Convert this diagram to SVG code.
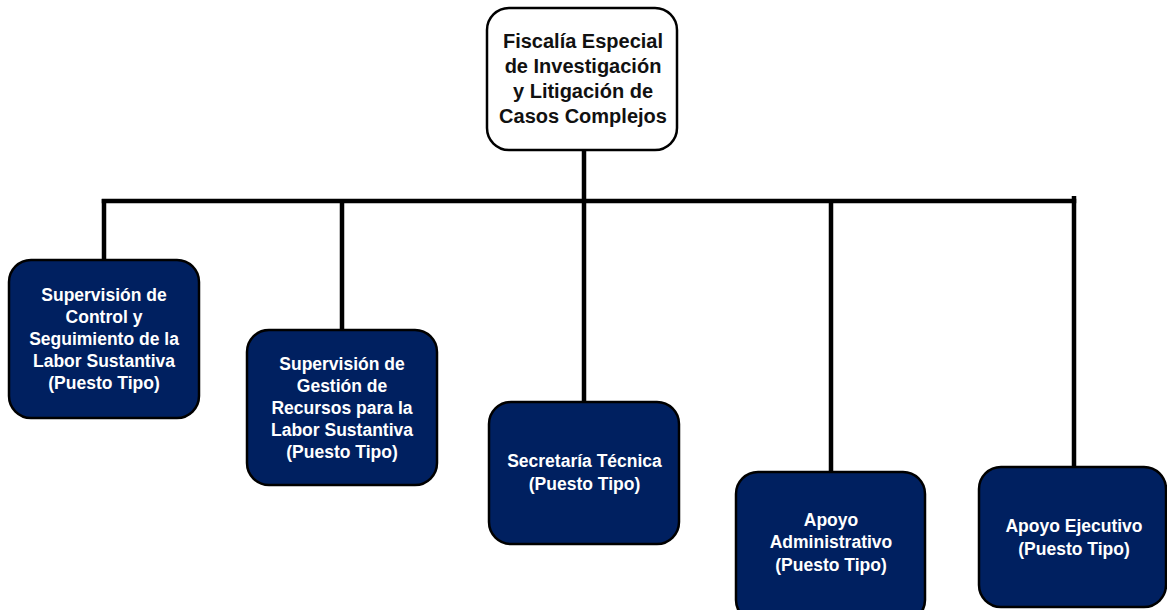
<svg xmlns="http://www.w3.org/2000/svg" width="1167" height="610" viewBox="0 0 1167 610">
<style>
.box{fill:#002060;stroke:#000;stroke-width:2.5}
.top{fill:#fff;stroke:#000;stroke-width:2.5}
.t{font-family:"Liberation Sans",Arial,sans-serif;font-weight:bold;font-size:17.5px;fill:#fff;text-anchor:middle}
.tt{font-family:"Liberation Sans",Arial,sans-serif;font-weight:bold;font-size:20px;fill:#111;text-anchor:middle}
.c{stroke:#000;stroke-width:4.5;fill:none}
</style>
<rect width="1167" height="610" fill="#fff"/>
<g id="connectors">
<line class="c" x1="584" y1="150" x2="584" y2="402"/>
<line class="c" x1="101.75" y1="201" x2="1076.25" y2="201"/>
<line class="c" x1="104" y1="199" x2="104" y2="260"/>
<line class="c" x1="342" y1="201" x2="342" y2="330"/>
<line class="c" x1="831" y1="201" x2="831" y2="472"/>
<line class="c" x1="1074" y1="196" x2="1074" y2="467"/>
</g>
<g id="n0">
<rect class="top" x="487" y="8" width="190" height="142" rx="22"/>
<text class="tt" x="583"><tspan x="583" y="48">Fiscalía Especial</tspan><tspan x="583" y="73">de Investigación</tspan><tspan x="583" y="98">y Litigación de</tspan><tspan x="583" y="123">Casos Complejos</tspan></text>
</g>
<g id="n1">
<rect class="box" x="9" y="260" width="190" height="158" rx="22"/>
<text class="t"><tspan x="104" y="301">Supervisión de</tspan><tspan x="104" y="323">Control y</tspan><tspan x="104" y="345">Seguimiento de la</tspan><tspan x="104" y="367">Labor Sustantiva</tspan><tspan x="104" y="389">(Puesto Tipo)</tspan></text>
</g>
<g id="n2">
<rect class="box" x="247" y="330" width="190" height="155" rx="22"/>
<text class="t"><tspan x="342" y="370">Supervisión de</tspan><tspan x="342" y="392">Gestión de</tspan><tspan x="342" y="414">Recursos para la</tspan><tspan x="342" y="436">Labor Sustantiva</tspan><tspan x="342" y="458">(Puesto Tipo)</tspan></text>
</g>
<g id="n3">
<rect class="box" x="489" y="402" width="190" height="142" rx="22"/>
<text class="t"><tspan x="584.5" y="467">Secretaría Técnica</tspan><tspan x="584.5" y="490">(Puesto Tipo)</tspan></text>
</g>
<g id="n4">
<rect class="box" x="736" y="472" width="189" height="150" rx="22"/>
<text class="t"><tspan x="831" y="526">Apoyo</tspan><tspan x="831" y="548">Administrativo</tspan><tspan x="831" y="571">(Puesto Tipo)</tspan></text>
</g>
<g id="n5">
<rect class="box" x="979" y="467" width="187" height="140" rx="22"/>
<text class="t"><tspan x="1074" y="532">Apoyo Ejecutivo</tspan><tspan x="1074" y="555">(Puesto Tipo)</tspan></text>
</g>
</svg>
